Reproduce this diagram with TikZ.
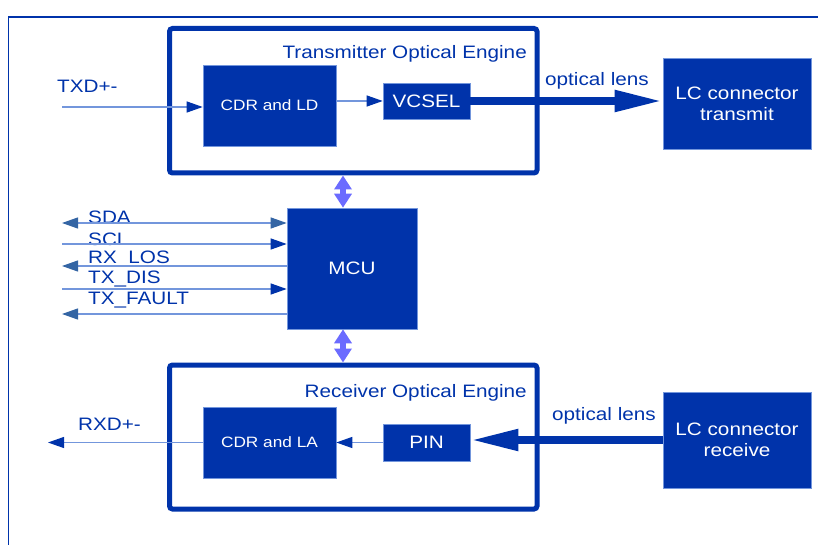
\documentclass[tikz,border=0pt]{standalone}
\usepackage{fontspec}
\setmainfont{Liberation Sans}[FakeStretch=1.15]
\usetikzlibrary{arrows.meta,positioning}

\definecolor{engblue}{HTML}{0033AA}
\definecolor{lineblue}{HTML}{7396DC}
\definecolor{tipblue}{HTML}{3465A4}
\definecolor{linkpurple}{HTML}{6B6BFF}

\begin{document}
\begin{tikzpicture}[
        x=1pt, y=-1pt,
        engine/.style={
            rectangle,
            draw=engblue,
            line width=5pt,
            rounded corners=3pt,
            inner sep=0pt
        },
        block/.style={
            rectangle,
            draw=lineblue,
            line width=0.6pt,
            fill=engblue,
            text=white,
            align=center,
            inner sep=0pt,
            font=\fontsize{18}{21}\selectfont
        },
        smallblock/.style={block, font=\fontsize{15}{18}\selectfont},
        title/.style={text=engblue, inner sep=0pt, font=\fontsize{18}{21}\selectfont},
        sigline/.style={draw=lineblue, line width=1.2pt},
        line/.style={sigline, -{Triangle[length=16pt,width=11pt,color=engblue]}},
        sigin/.style={sigline, -{Triangle[length=16pt,width=11pt,color=engblue]}},
        sigout/.style={sigline, {Triangle[length=16pt,width=11pt,color=tipblue]}-},
        sigboth/.style={sigline, {Triangle[length=16pt,width=11pt,color=tipblue]}-{Triangle[length=16pt,width=11pt,color=tipblue]}},
        beam/.style={draw=engblue, line width=8pt, -{Triangle[length=48pt,width=20pt]}},
        link/.style={draw=linkpurple, line width=6pt,
            {Triangle[length=14pt,width=17pt]}-{Triangle[length=14pt,width=17pt]}}
    ]
        \useasboundingbox (0,0) rectangle (818,545);

        % -- ramka --
        \draw [engblue, line width=1.2pt] (818,17) -- (8.5,17) -- (8.5,545);

        % -- silniki optyczne --
        \node [engine, minimum width=367.5pt, minimum height=144.5pt] (txeng) at (353.25,100.75) {};
        \node [engine, minimum width=367.5pt, minimum height=144pt] (rxeng) at (353.25,437) {};
        \node [title, anchor=base east] (txtitle) at (527,59) {Transmitter Optical Engine};
        \node [title, anchor=base east] (rxtitle) at (527,397.5) {Receiver Optical Engine};

        % -- bloki nadajnika --
        \node [smallblock, minimum width=133pt, minimum height=81pt] (cdrld) at (269.5,105.5) {CDR and LD};
        \node [block, minimum width=87pt, minimum height=36pt] (vcsel) at (426.5,101) {VCSEL};
        \node [block, minimum width=148pt, minimum height=91pt] (lctx) at (737,103.5) {LC connector\\transmit};

        % -- MCU --
        \node [block, minimum width=130pt, minimum height=121pt] (mcu) at (352,268.5) {MCU};

        % -- bloki odbiornika --
        \node [smallblock, minimum width=133pt, minimum height=71pt] (cdrla) at (269.5,442.5) {CDR and LA};
        \node [block, minimum width=87pt, minimum height=37pt] (pin) at (426.5,442.5) {PIN};
        \node [block, minimum width=148pt, minimum height=96pt] (lcrx) at (737,440) {LC connector\\receive};

        % -- etykiety --
        \node [title, anchor=base west] (txd) at (57,92.5) {TXD+-};
        \node [title, anchor=base west] (rxd) at (78,430) {RXD+-};
        \node [title, anchor=base west] (lenstx) at (545,85.5) {optical lens};
        \node [title, anchor=base west] (lensrx) at (552,420) {optical lens};

        % -- punkty swobodne --
        \coordinate (txdin) at (62,107);
        \coordinate (rxdout) at (48,442.5);
        \coordinate (linkx) at (343,0);

        % -- ścieżki nadajnika --
        \path [line] (txdin) -- (txdin -| cdrld.west);
        \path [line] (cdrld.east |- vcsel) -- (vcsel.west);
        \path [beam] (vcsel.east) -- (vcsel.east -| lctx.west);

        % -- ścieżki odbiornika --
        \path [beam] (lcrx.west) -- (lcrx.west -| pin.east);
        \path [line] (pin.west) -- (cdrla.east);
        \path [line] (cdrla.west) -- (rxdout);

        % -- połączenia z MCU --
        \path [link] (txeng.south -| linkx) -- (mcu.north -| linkx);
        \path [link] (mcu.south -| linkx) -- (rxeng.north -| linkx);

        % -- sygnały sterujące --
        \foreach \yy/\bl/\lab/\kind [count=\i] in {223/223.5/SDA/sigboth, 244/245.5/SCL/sigin,
                266/263.5/RX\_LOS/sigout, 289/283.5/TX\_DIS/sigin, 314/304.5/TX\_FAULT/sigout} {
            \coordinate (sig\i) at (62,\yy);
            \node [title, anchor=base west] (siglab\i) at (88,\bl) {\lab};
            \path [\kind] (sig\i) -- (sig\i -| mcu.west);
        }

    \end{tikzpicture}
\end{document}
